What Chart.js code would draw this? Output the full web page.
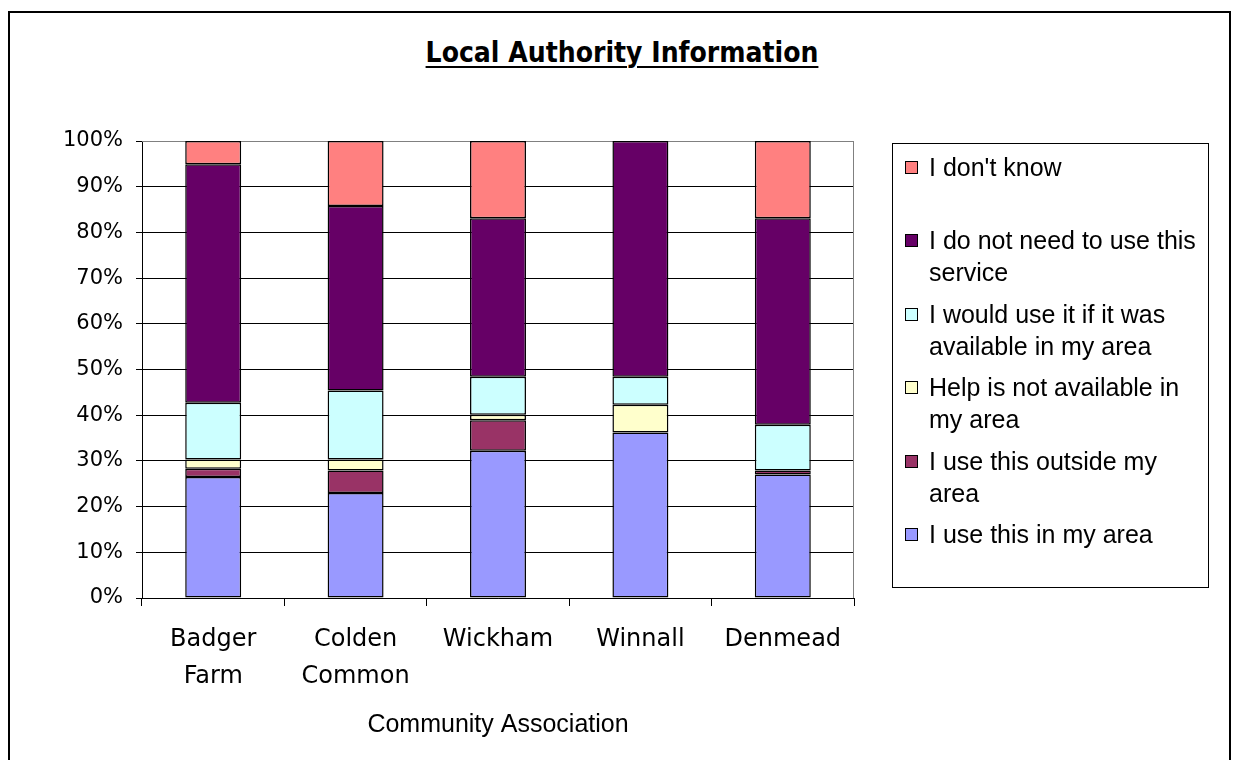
<!DOCTYPE html>
<html>
<head>
<meta charset="utf-8">
<title>Local Authority Information</title>
<script src="https://cdn.jsdelivr.net/npm/chart.js@4.4.1/dist/chart.umd.min.js"></script>
<style>
  html, body { margin: 0; padding: 0; background: #fff; width: 1235px; height: 760px; overflow: hidden; }
  #frame { position: absolute; left: 8px; top: 11px; width: 1219px; height: 800px; border: 2px solid #000; }
  #wrap { position: absolute; left: 0; top: 0; width: 1235px; height: 760px; }
  #title {
    position: absolute; left: 322px; top: 39px; width: 600px; text-align: center;
    font: bold 28px "DejaVu Sans Condensed", "DejaVu Sans", sans-serif; line-height: 28px;
    text-decoration: underline; text-decoration-thickness: 2px; text-underline-offset: 4px;
    color: #000;
  }
  #legend {
    position: absolute; left: 892px; top: 143px; width: 315px; height: 436px;
    border: 1.5px solid #000; padding-top: 7px; box-sizing: content-box;
  }
  .item { position: relative; height: 73.4px; }
  .swatch { position: absolute; left: 12px; top: 10px; width: 11px; height: 11px; border: 1px solid #000; }
  .text {
    position: absolute; left: 36px; top: 0; width: 278px;
    font: 25px "Liberation Sans", Arial, sans-serif; line-height: 32px; color: #000;
  }
</style>
</head>
<body>
<div id="frame"></div>
<div id="title">Local Authority Information</div>
<div id="wrap"><canvas id="chart"></canvas></div>
<div id="legend"></div>
<script>
// Categories (multi-line labels as shown under the axis)
const categories = [['Badger', 'Farm'], ['Colden', 'Common'], 'Wickham', 'Winnall', 'Denmead'];

// Series, bottom of the stack first (percent of respondents)
const seriesNames = [
  'I use this in my area',
  'I use this outside my area',
  'Help is not available in my area',
  'I would use it if it was available in my area',
  'I do not need to use this service',
  "I don't know"
];
const useInArea      = [26.5, 23.0, 32.2, 36.2, 27.0];
const useOutside     = [1.8, 4.9, 6.7, 0.0, 0.9];
const notAvailable   = [2.0, 2.4, 1.2, 6.1, 0.0];
const wouldUse       = [12.4, 15.1, 8.3, 6.1, 10.0];
const doNotNeed      = [52.2, 40.4, 34.7, 51.6, 45.2];
const dontKnow       = [5.1, 14.2, 16.9, 0.0, 16.9];
const seriesValues = [useInArea, useOutside, notAvailable, wouldUse, doNotNeed, dontKnow];
const seriesColors = ['#9999FF', '#993366', '#FFFFCC', '#CCFFFF', '#660066', '#FF8080'];

const yTickLabels = ['0%', '10%', '20%', '30%', '40%', '50%', '60%', '70%', '80%', '90%', '100%'];

// Grey plot-area frame on top and right (Excel style)
const plotFrame = {
  id: 'plotFrame',
  beforeDatasetsDraw(chart) {
    const { ctx, chartArea: a } = chart;
    ctx.save();
    ctx.strokeStyle = '#808080';
    ctx.lineWidth = 1;
    ctx.beginPath();
    ctx.moveTo(a.left, a.top + 0.5);
    ctx.lineTo(a.right - 0.5, a.top + 0.5);
    ctx.lineTo(a.right - 0.5, a.bottom);
    ctx.stroke();
    ctx.restore();
  }
};

const datasets = seriesNames.map((name, i) => ({
  label: name,
  data: seriesValues[i],
  backgroundColor: seriesColors[i],
  borderColor: '#000',
  borderWidth: 1.5,
  borderSkipped: false,
  categoryPercentage: 1.0,
  barPercentage: 0.393
}));

new Chart(document.getElementById('chart'), {
  type: 'bar',
  data: { labels: categories, datasets: datasets },
  plugins: [plotFrame],
  options: {
    responsive: true,
    maintainAspectRatio: false,
    animation: false,
    layout: { padding: { top: 141, right: 381, bottom: 20, left: 0 } },
    plugins: {
      legend: { display: false },
      title: { display: false },
      tooltip: { enabled: false }
    },
    scales: {
      x: {
        stacked: true,
        afterFit: (s) => { s.height = 142; },
        grid: { offset: true, drawOnChartArea: false, drawTicks: true, tickLength: 8, color: '#000' },
        border: { display: true, color: '#000', width: 1 },
        ticks: {
          color: '#000',
          padding: 15,
          maxRotation: 0,
          autoSkip: false,
          font: { family: '"DejaVu Sans", sans-serif', size: 24, lineHeight: 1.54 }
        },
        title: {
          display: true,
          text: 'Community Association',
          color: '#000',
          padding: 0,
          font: { family: '"Liberation Sans", Arial, sans-serif', size: 25, lineHeight: 1.2 }
        }
      },
      y: {
        stacked: true,
        min: 0,
        max: 100,
        afterFit: (s) => { s.width = 142; },
        grid: {
          color: (c) => (c.tick && c.tick.value === 100 ? '#808080' : '#000'),
          tickColor: '#000',
          tickLength: 6,
          lineWidth: 1
        },
        border: { display: true, color: '#000', width: 1 },
        ticks: {
          stepSize: 10,
          padding: 13,
          color: '#000',
          font: { family: '"DejaVu Sans", sans-serif', size: 21 },
          callback: (v, i) => yTickLabels[i]
        }
      }
    }
  }
});

// Legend: top of the stack first, as in the original
const legend = document.getElementById('legend');
for (let i = seriesNames.length - 1; i >= 0; i--) {
  const item = document.createElement('div');
  item.className = 'item';
  const sw = document.createElement('div');
  sw.className = 'swatch';
  sw.style.background = seriesColors[i];
  const tx = document.createElement('div');
  tx.className = 'text';
  tx.textContent = seriesNames[i];
  item.appendChild(sw);
  item.appendChild(tx);
  legend.appendChild(item);
}
</script>
</body>
</html>
